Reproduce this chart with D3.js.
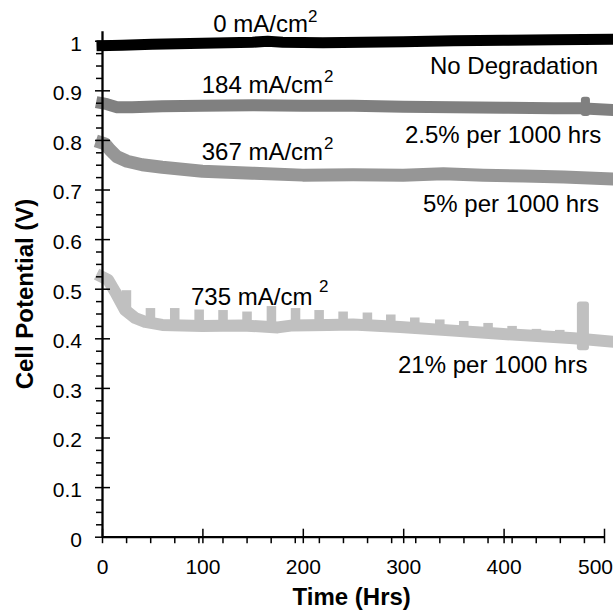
<!DOCTYPE html>
<html>
<head>
<meta charset="utf-8">
<script src="https://cdn.jsdelivr.net/npm/d3@7"></script>
<style>
body { margin: 0; background: #fff; }
text { font-family: "Liberation Sans", Arial, sans-serif; fill: #000; }
</style>
</head>
<body>
<div id="chart"></div>
<script>
// hours and cell potential, one pair of arrays per current density
var hrs0 = [0, 20, 50, 100, 150, 165, 180, 220, 260, 300, 350, 400, 450, 510];
var volt0 = [0.990, 0.991, 0.993, 0.995, 0.997, 0.999, 0.997, 0.996, 0.997, 0.998, 1.000, 1.001, 1.002, 1.003];

var hrs184 = [0, 5, 15, 30, 60, 100, 150, 200, 250, 300, 350, 400, 450, 476, 510];
var volt184 = [0.874, 0.872, 0.866, 0.866, 0.868, 0.869, 0.870, 0.869, 0.869, 0.867, 0.866, 0.865, 0.864, 0.864, 0.860];

var hrs367 = [0, 3, 8, 15, 25, 40, 60, 80, 100, 150, 200, 250, 300, 340, 380, 420, 460, 510];
var volt367 = [0.794, 0.792, 0.780, 0.766, 0.757, 0.750, 0.745, 0.741, 0.737, 0.733, 0.729, 0.730, 0.729, 0.732, 0.729, 0.727, 0.725, 0.721];

var hrs735 = [0, 6, 13, 23, 33, 43, 60, 100, 140, 175, 190, 225, 250, 297, 346, 396, 446, 470, 510];
var volt735 = [0.524, 0.518, 0.494, 0.457, 0.441, 0.433, 0.427, 0.425, 0.426, 0.422, 0.426, 0.427, 0.428, 0.423, 0.416, 0.409, 0.403, 0.400, 0.393];

// daily bumps on the 735 mA/cm2 trace: start hour and top voltage
var pulseStart = [19.6, 43.5, 67.7, 92, 115.8, 139.7, 164, 188, 211.5, 235.4, 259.6, 282.9, 306.8, 331.7, 355.6, 379.8, 403.7, 428, 451.2];
var pulseTop = [0.497, 0.461, 0.461, 0.458, 0.457, 0.454, 0.465, 0.461, 0.457, 0.454, 0.452, 0.448, 0.442, 0.438, 0.435, 0.431, 0.425, 0.419, 0.417];
var pulseHours = 9.5;

// short excursions near 480 hrs: [start, end, low, high]
var spike184 = [477, 486, 0.848, 0.887];
var spike735 = [473, 485, 0.376, 0.474];

var xTicks = [0, 100, 200, 300, 400, 500];
var xLabels = ["0", "100", "200", "300", "400", "500"];
var yTicks = [0, 0.1, 0.2, 0.3, 0.4, 0.5, 0.6, 0.7, 0.8, 0.9, 1];
var yLabels = ["0", "0.1", "0.2", "0.3", "0.4", "0.5", "0.6", "0.7", "0.8", "0.9", "1"];

var width = 613, height = 614;

var svg = d3.select("#chart")
    .append("svg")
    .attr("width", width)
    .attr("height", height)
    .style("background", "#fff");

var x = d3.scaleLinear().domain([0, 500]).range([102, 604]);
var y = d3.scaleLinear().domain([0, 1.02]).range([536.7, 30.8]);
// piecewise scale along the 735 trace, used to seat the pulses on it
var base735 = d3.scaleLinear().domain(hrs735).range(volt735);

var series = [
    { hrs: hrs735, volt: volt735, color: "#c0c0c0", w: 12 },
    { hrs: hrs367, volt: volt367, color: "#969696", w: 13 },
    { hrs: hrs184, volt: volt184, color: "#808080", w: 12 },
    { hrs: hrs0, volt: volt0, color: "#000000", w: 11 }
];

var line = d3.line()
    .x(function (d) { return x(d[0]); })
    .y(function (d) { return y(d[1]); });

var plot = svg.append("g");

plot.selectAll(".pulse")
    .data(pulseStart)
    .enter()
    .append("rect")
    .attr("class", "pulse")
    .attr("x", function (d) { return x(d); })
    .attr("y", function (d, i) { return y(pulseTop[i]); })
    .attr("width", function (d) { return x(d + pulseHours) - x(d); })
    .attr("height", function (d, i) {
        return y(base735(d + pulseHours / 2)) - y(pulseTop[i]);
    })
    .style("fill", "#c0c0c0");

series.forEach(function (s) {
    var pts = s.hrs.map(function (h, i) { return [h, s.volt[i]]; });
    plot.append("path")
        .datum(pts)
        .attr("d", line)
        .style("fill", "none")
        .style("stroke", s.color)
        .style("stroke-width", s.w)
        .style("stroke-linejoin", "round")
        .style("stroke-linecap", "square");
});

[[spike735, "#c0c0c0"], [spike184, "#808080"]].forEach(function (p) {
    var s = p[0];
    plot.append("rect")
        .attr("x", x(s[0]))
        .attr("y", y(s[3]))
        .attr("width", x(s[1]) - x(s[0]))
        .attr("height", y(s[2]) - y(s[3]))
        .attr("rx", 3)
        .style("fill", p[1]);
});

// axes
var yMinor = d3.range(0, 1.0, 0.025).filter(function (v) {
    return Math.abs(v * 10 - Math.round(v * 10)) > 0.01;
});
var xMinor = d3.range(24, 500, 24);

var yAxisMinor = svg.append("g")
    .attr("transform", "translate(102,0)")
    .call(d3.axisLeft(y).tickValues(yMinor).tickSize(6).tickFormat(""));
yAxisMinor.select(".domain").remove();

var yAxis = svg.append("g")
    .attr("transform", "translate(102,0)")
    .call(d3.axisLeft(y).tickValues(yTicks).tickSizeInner(7).tickSizeOuter(0).tickPadding(13)
        .tickFormat(function (d, i) { return yLabels[i]; }));
yAxis.selectAll(".tick line").attr("x1", 8);
yAxis.selectAll(".tick text").attr("dy", "0.45em").style("font-size", "21px");

var xAxisMinor = svg.append("g")
    .attr("transform", "translate(0,536.7)")
    .call(d3.axisBottom(x).tickValues(xMinor).tickSize(6.5).tickFormat(""));
xAxisMinor.select(".domain").remove();

var xAxis = svg.append("g")
    .attr("transform", "translate(0,536.7)")
    .call(d3.axisBottom(x).tickValues(xTicks).tickSizeInner(6.5).tickSizeOuter(0).tickPadding(16)
        .tickFormat(function (d, i) { return xLabels[i]; }));
xAxis.selectAll(".tick line").attr("y1", -8);
xAxis.selectAll(".tick text").style("font-size", "21px");
// last label is pulled in so it stays inside the frame
xAxis.selectAll(".tick text").filter(function (d) { return d === 500; })
    .attr("text-anchor", "end")
    .attr("x", 8.5);

svg.selectAll(".tick line").style("stroke", "#000").style("stroke-width", 1.5);
svg.selectAll(".domain").style("stroke", "#000").style("stroke-width", 2.3);
svg.selectAll(".tick text").style("fill", "#000").style("font-family", "\"Liberation Sans\", Arial, sans-serif");

svg.append("text")
    .attr("transform", "translate(33,294) rotate(-90)")
    .style("text-anchor", "middle")
    .style("font-size", "24px")
    .style("font-weight", "bold")
    .text("Cell Potential (V)");

svg.append("text")
    .attr("x", 351.7)
    .attr("y", 605)
    .style("text-anchor", "middle")
    .style("font-size", "24px")
    .style("font-weight", "bold")
    .text("Time (Hrs)");

// annotations
var notes = [
    ["0 mA/cm", 213.3, 31.7, "2", 308, 22],
    ["184 mA/cm", 201.7, 93.3, "2", 324, 82],
    ["367 mA/cm", 201.7, 160, "2", 324, 148.5],
    ["735 mA/cm", 191, 305, "2", 319, 292],
    ["No Degradation", 430, 74],
    ["2.5% per 1000 hrs", 405, 143.3],
    ["5% per 1000 hrs", 423, 211.7],
    ["21% per 1000 hrs", 398, 372.7]
];
notes.forEach(function (n) {
    svg.append("text")
        .attr("x", n[1])
        .attr("y", n[2])
        .style("font-size", "24px")
        .text(n[0]);
    if (n[3]) {
        svg.append("text")
            .attr("x", n[4])
            .attr("y", n[5])
            .style("font-size", "17px")
            .text(n[3]);
    }
});
</script>
</body>
</html>
